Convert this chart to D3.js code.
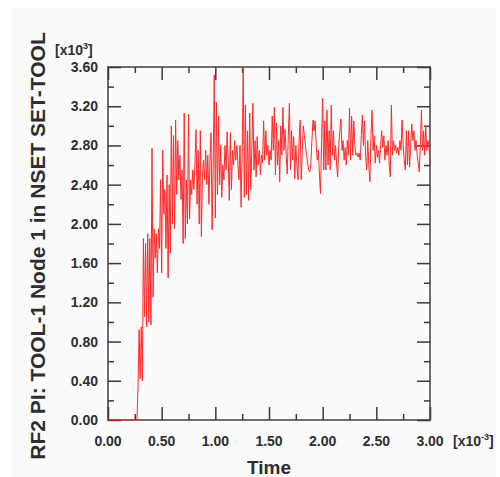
<!DOCTYPE html>
<html>
<head>
<meta charset="utf-8">
<script src="https://cdn.jsdelivr.net/npm/d3@7"></script>
<style>
  html, body { margin: 0; padding: 0; background: #ffffff; }
  svg { display: block; }
  text { font-family: "Liberation Sans", Arial, Helvetica, sans-serif; fill: #2e2e2e; }
</style>
</head>
<body>
<svg id="chart" width="500" height="477"></svg>
<script>
// Reaction force history (values in units of 10^3), sampled every 0.01 (x10^-3 s)
const timeStart = 0.27;
const timeStep = 0.01;
const force = [
  0.00, 0.35, 0.92, 0.42, 0.95, 0.40, 1.85, 1.05, 1.80, 0.95,
  1.90, 1.00, 1.85, 0.97, 2.77, 1.25, 1.95, 1.65, 1.90, 1.50,
  1.95, 1.75, 2.45, 1.50, 2.75, 2.10, 2.35, 1.75, 2.50, 1.45,
  2.40, 1.70, 3.00, 2.00, 2.90, 1.95, 3.06, 2.30, 2.85, 2.45,
  2.70, 2.25, 2.55, 1.80, 3.13, 1.85, 2.45, 2.00, 3.12, 2.05,
  2.45, 2.30, 2.55, 2.35, 2.60, 2.96, 2.20, 2.75, 2.00, 2.95,
  1.87, 2.50, 2.65, 2.45, 2.75, 2.40, 2.70, 2.20, 2.65, 2.93,
  1.94, 2.60, 3.52, 2.06, 3.24, 2.30, 3.10, 2.40, 2.80, 2.27,
  2.60, 2.45, 2.80, 2.55, 2.94, 2.65, 2.24, 2.93, 2.35, 2.75,
  2.60, 2.85, 2.65, 2.80, 2.62, 2.45, 2.80, 2.17, 2.70, 3.60,
  2.27, 3.21, 2.30, 2.95, 2.24, 3.13, 2.35, 2.75, 3.23, 2.55,
  2.85, 2.48, 2.89, 2.60, 2.75, 2.50, 2.70, 2.62, 3.05, 2.65,
  2.95, 2.70, 2.80, 2.60, 2.75, 2.65, 3.10, 2.75, 3.19, 2.50,
  3.03, 2.60, 2.85, 2.43, 3.00, 2.70, 3.19, 2.75, 2.96, 2.70,
  2.51, 2.90, 3.23, 2.55, 2.95, 2.65, 2.89, 2.46, 2.80, 2.60,
  2.45, 2.85, 3.06, 2.45, 2.75, 3.00, 2.90, 2.80, 2.70, 2.62,
  2.55, 2.53, 2.62, 2.85, 3.06, 2.95, 3.05, 2.80, 2.65, 2.75,
  2.50, 2.31, 2.85, 3.28, 2.55, 3.05, 2.55, 3.16, 2.60, 2.95,
  2.55, 3.21, 2.70, 2.95, 2.65, 2.80, 2.60, 2.48, 2.80, 2.95,
  3.07, 2.75, 2.85, 2.65, 2.78, 2.60, 2.85, 2.70, 3.18, 2.65,
  3.10, 2.70, 3.05, 2.80, 2.70, 2.72, 2.68, 2.72, 2.65, 2.90,
  3.11, 2.80, 3.05, 2.70, 2.55, 2.85, 2.60, 2.43, 2.90, 3.16,
  2.75, 2.90, 2.62, 2.80, 2.68, 2.75, 2.62, 2.80, 2.95, 2.78,
  2.90, 2.65, 2.80, 2.70, 2.85, 2.60, 2.48, 3.21, 2.70, 2.85,
  2.75, 2.80, 2.72, 2.78, 2.70, 2.85, 2.75, 3.06, 2.80, 2.65,
  2.55, 2.95, 2.60, 2.95, 2.58, 2.80, 3.02, 2.85, 2.95, 2.75,
  2.85, 2.70, 2.62, 2.53, 2.80, 3.16, 2.75, 2.95, 2.70, 3.00,
  2.75, 2.85, 2.80, 2.60
];

const xTickValues = [0, 0.5, 1.0, 1.5, 2.0, 2.5, 3.0];
const xMinorValues = [0.25, 0.75, 1.25, 1.75, 2.25, 2.75];
const yTickValues = [0, 0.4, 0.8, 1.2, 1.6, 2.0, 2.4, 2.8, 3.2, 3.6];
const yMinorValues = [0.2, 0.6, 1.0, 1.4, 1.8, 2.2, 2.6, 3.0, 3.4];

const xTitle = "Time";
const yTitle = "RF2 PI: TOOL-1 Node 1 in NSET SET-TOOL";

// Series as [time, value] pairs, with the flat zero stretch before loading begins
const series = [[0, 0]].concat(force.map((v, i) => [timeStart + i * timeStep, v]));

const svg = d3.select("#chart");
const plot = { left: 108, right: 430, top: 67, bottom: 420 };

// Light panel behind the whole chart
svg.append("rect")
  .attr("x", 12).attr("y", 8).attr("width", 484).attr("height", 469)
  .attr("fill", "#fafafa");

const x = d3.scaleLinear().domain([0, 3]).range([plot.left, plot.right]);
const y = d3.scaleLinear().domain([0, 3.6]).range([plot.bottom, plot.top]);

const tickColor = "#3a3a3a";
const majorLen = 13, minorLen = 6;

// Plot frame
svg.append("rect")
  .attr("x", plot.left).attr("y", plot.top)
  .attr("width", plot.right - plot.left).attr("height", plot.bottom - plot.top)
  .attr("fill", "none").attr("stroke", "#6e6e6e").attr("stroke-width", 2);

// Inward ticks on all four sides, using D3 axes
function drawTicks(axisFn, scale, values, len, transform) {
  const g = svg.append("g").attr("transform", transform)
    .call(axisFn(scale).tickValues(values).tickSize(len).tickFormat(""));
  g.select(".domain").remove();
  g.selectAll("line").attr("stroke", tickColor).attr("stroke-width", 1.5);
}
// bottom (ticks pointing up)
drawTicks(d3.axisTop, x, xTickValues, majorLen, `translate(0,${plot.bottom})`);
drawTicks(d3.axisTop, x, xMinorValues, minorLen, `translate(0,${plot.bottom})`);
// top (ticks pointing down)
drawTicks(d3.axisBottom, x, xTickValues, majorLen, `translate(0,${plot.top})`);
drawTicks(d3.axisBottom, x, xMinorValues, minorLen, `translate(0,${plot.top})`);
// left (ticks pointing right)
drawTicks(d3.axisRight, y, yTickValues, majorLen, `translate(${plot.left},0)`);
drawTicks(d3.axisRight, y, yMinorValues, minorLen, `translate(${plot.left},0)`);
// right (ticks pointing left)
drawTicks(d3.axisLeft, y, yTickValues, majorLen, `translate(${plot.right},0)`);
drawTicks(d3.axisLeft, y, yMinorValues, minorLen, `translate(${plot.right},0)`);

// Tick labels
svg.append("g").selectAll("text").data(xTickValues).join("text")
  .attr("x", d => x(d)).attr("y", 446)
  .attr("text-anchor", "middle")
  .attr("font-size", 14).attr("font-weight", "bold")
  .text(d => d3.format(".2f")(d));

svg.append("g").selectAll("text").data(yTickValues).join("text")
  .attr("x", 98).attr("y", d => y(d) + 5)
  .attr("text-anchor", "end")
  .attr("font-size", 14).attr("font-weight", "bold")
  .text(d => d3.format(".2f")(d));

// Exponent markers
const yExp = svg.append("text").attr("x", 55).attr("y", 55)
  .attr("font-size", 14).attr("font-weight", "bold");
yExp.append("tspan").text("[x10");
yExp.append("tspan").attr("dy", -6).attr("font-size", 9).text("3");
yExp.append("tspan").attr("dy", 6).text("]");

const xExp = svg.append("text").attr("x", 453).attr("y", 446)
  .attr("font-size", 14).attr("font-weight", "bold");
xExp.append("tspan").text("[x10");
xExp.append("tspan").attr("dy", -6).attr("font-size", 9).text("-3");
xExp.append("tspan").attr("dy", 6).text("]");

// Axis titles
svg.append("text")
  .attr("x", x(1.5)).attr("y", 474)
  .attr("text-anchor", "middle")
  .attr("font-size", 19).attr("font-weight", "bold")
  .text(xTitle);

svg.append("text")
  .attr("transform", "translate(45,246) rotate(-90)")
  .attr("text-anchor", "middle")
  .attr("font-size", 21).attr("font-weight", "bold")
  .text(yTitle);

// Force trace, drawn over the frame
svg.append("path")
  .datum(series)
  .attr("fill", "none")
  .attr("stroke", "#ff2a2a")
  .attr("stroke-width", 1)
  .attr("d", d3.line().x(d => x(d[0])).y(d => y(d[1])));
</script>
</body>
</html>
